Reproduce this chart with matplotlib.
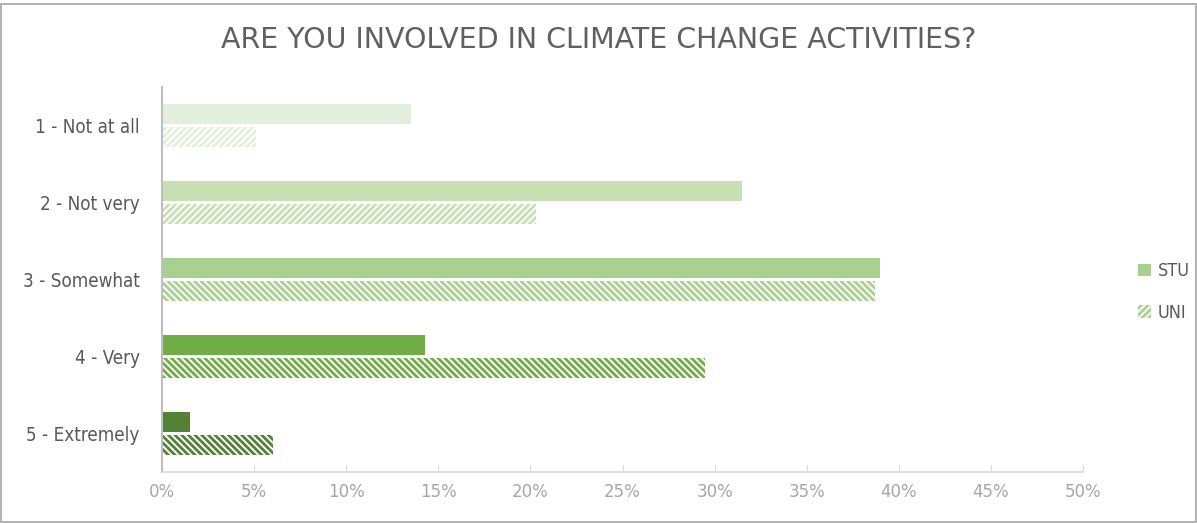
import matplotlib.pyplot as plt
from matplotlib.patches import Patch
import numpy as np

categories = ['1 - Not at all', '2 - Not very', '3 - Somewhat', '4 - Very', '5 - Extremely']
stu = [13.5, 31.5, 39.0, 14.3, 1.5]
uni = [5.1, 20.3, 38.7, 29.5, 6.0]
shades = ['#e2efda', '#c6e0b4', '#a9d08e', '#70ad47', '#548235']
hatches = ['/////', '/////', '\\\\\\\\\\', '\\\\\\\\\\', '\\\\\\\\\\']

plt.rcParams['hatch.linewidth'] = 2.0

fig = plt.figure(figsize=(11.97, 5.23), dpi=100)
ax = fig.add_axes([162 / 1197, 1 - 472 / 523, (1083 - 162) / 1197, 385 / 523])

y = np.arange(len(categories))
h = 0.27
for i in range(len(categories)):
    ax.barh(y[i] - h / 2 - 0.013, stu[i], height=h, color=shades[i], linewidth=0)
    ax.barh(y[i] + h / 2 + 0.013, uni[i], height=h, facecolor='white',
            edgecolor=shades[i], hatch=hatches[i], linewidth=0)

ax.set_ylim(4.5, -0.5)
ax.set_xlim(0, 50)
ax.set_xticks(range(0, 51, 5))
ax.set_xticklabels([f'{v}%' for v in range(0, 51, 5)])
ax.set_yticks(y)
ax.set_yticklabels(categories, fontstretch='condensed')

for s in ['top', 'right']:
    ax.spines[s].set_visible(False)
ax.spines['left'].set_color('#bfbfbf')
ax.spines['bottom'].set_color('#d9d9d9')
ax.spines['left'].set_linewidth(1.5)
ax.spines['bottom'].set_linewidth(1.2)
ax.tick_params(axis='x', colors='#d9d9d9', labelcolor='#a6a6a6', labelsize=12,
               length=5, direction='in', pad=8)
ax.tick_params(axis='y', length=0, labelcolor='#595959', labelsize=13.5, pad=16)

fig.text(0.5, 1 - 40 / 523, 'ARE YOU INVOLVED IN CLIMATE CHANGE ACTIVITIES?',
         ha='center', va='center', fontsize=20.5, color='#606060')

handles = [Patch(facecolor='#a9d08e', linewidth=0, label='STU'),
           Patch(facecolor='white', edgecolor='#a9d08e', hatch='/////', linewidth=0, label='UNI')]
fig.legend(handles=handles, loc='center left', bbox_to_anchor=(1122 / 1197, 1 - 292 / 523),
           frameon=False, handlelength=0.7, handleheight=0.7,
           handletextpad=0.4, labelspacing=1.3, labelcolor='#595959',
           prop={'stretch': 'condensed', 'size': 13})

fig.patches.append(plt.Rectangle((0.001, 0.001), 0.998, 0.991, transform=fig.transFigure,
                                 fill=False, edgecolor='#a6a6a6', linewidth=1.2))

fig.savefig('out.png', dpi=100)
